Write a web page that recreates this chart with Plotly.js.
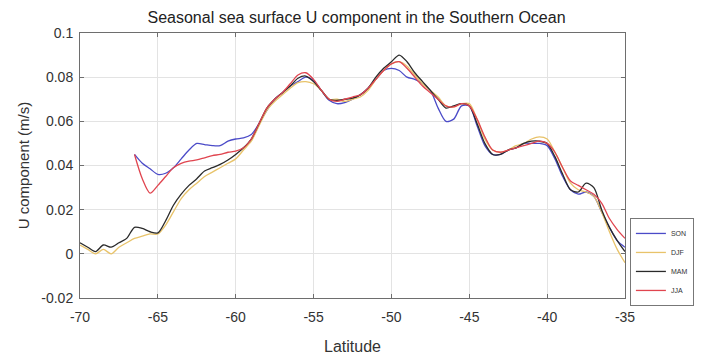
<!DOCTYPE html>
<html>
<head>
<meta charset="utf-8">
<script src="https://cdn.plot.ly/plotly-3.0.1.min.js"></script>
<style>html,body{margin:0;padding:0;background:#fff;}#chart{width:706px;height:362px;}</style>
</head>
<body>
<div id="chart"></div>
<script>
const lat = [-70,-69.5,-69,-68.5,-68,-67.5,-67,-66.5,-66,-65.5,-65,-64.5,-64,-63.5,-63,-62.5,-62,-61.5,-61,-60.5,-60,-59.5,-59,-58.5,-58,-57.5,-57,-56.5,-56,-55.5,-55,-54.5,-54,-53.5,-53,-52.5,-52,-51.5,-51,-50.5,-50,-49.5,-49,-48.5,-48,-47.5,-47,-46.5,-46,-45.5,-45,-44.5,-44,-43.5,-43,-42.5,-42,-41.5,-41,-40.5,-40,-39.5,-39,-38.5,-38,-37.5,-37,-36.5,-36,-35.5,-35];

const son = [null,null,null,null,null,null,null,0.045,0.041,0.0385,0.036,0.0365,0.039,0.043,0.047,0.050,0.0495,0.049,0.049,0.051,0.052,0.0525,0.054,0.059,0.065,0.070,0.073,0.076,0.078,0.080,0.0785,0.074,0.0695,0.068,0.0685,0.070,0.072,0.075,0.079,0.083,0.084,0.083,0.080,0.079,0.077,0.074,0.066,0.060,0.061,0.067,0.067,0.058,0.049,0.045,0.045,0.047,0.048,0.050,0.050,0.050,0.049,0.043,0.035,0.029,0.027,0.028,0.026,0.019,0.012,0.006,0.003];

const djf = [0.004,0.002,0.000,0.002,0.000,0.003,0.005,0.007,0.008,0.009,0.009,0.013,0.019,0.025,0.029,0.032,0.035,0.037,0.039,0.041,0.043,0.047,0.051,0.058,0.065,0.069,0.072,0.075,0.0775,0.078,0.077,0.074,0.070,0.070,0.069,0.070,0.071,0.074,0.079,0.083,0.086,0.087,0.085,0.081,0.077,0.074,0.071,0.067,0.0665,0.068,0.068,0.061,0.052,0.047,0.046,0.047,0.049,0.050,0.052,0.053,0.052,0.046,0.039,0.032,0.029,0.028,0.026,0.019,0.010,0.002,-0.004];

const mam = [0.005,0.003,0.001,0.004,0.003,0.005,0.007,0.012,0.0115,0.010,0.0095,0.015,0.022,0.027,0.031,0.034,0.0375,0.039,0.0405,0.0425,0.045,0.048,0.052,0.059,0.066,0.070,0.073,0.076,0.0795,0.0805,0.078,0.074,0.070,0.0695,0.070,0.0705,0.072,0.075,0.080,0.084,0.087,0.090,0.087,0.082,0.078,0.074,0.070,0.066,0.067,0.068,0.067,0.059,0.050,0.045,0.045,0.047,0.048,0.050,0.051,0.051,0.050,0.044,0.036,0.029,0.028,0.032,0.030,0.020,0.012,0.006,0.001];

const jja = [null,null,null,null,null,null,null,0.045,0.034,0.0275,0.031,0.035,0.039,0.041,0.042,0.0425,0.0435,0.0445,0.045,0.046,0.0465,0.048,0.052,0.059,0.066,0.070,0.073,0.077,0.081,0.082,0.079,0.074,0.070,0.069,0.070,0.071,0.072,0.075,0.079,0.083,0.086,0.087,0.084,0.080,0.076,0.073,0.070,0.067,0.0665,0.068,0.067,0.061,0.053,0.047,0.046,0.047,0.048,0.049,0.050,0.051,0.050,0.046,0.039,0.033,0.031,0.029,0.027,0.023,0.016,0.011,0.007];

const seriesNames = ['SON','DJF','MAM','JJA'];
const seriesColors = ['#4b4bc8','#e8c36a','#2a2a2a','#e0454f'];
const seriesData = [son, djf, mam, jja];

const xTickVals = [-70,-65,-60,-55,-50,-45,-40,-35];
const xTickText = ['-70','-65','-60','-55','-50','-45','-40','-35'];
const yTickVals = [-0.02,0,0.02,0.04,0.06,0.08,0.1];
const yTickText = ['-0.02','0','0.02','0.04','0.06','0.08','0.1'];

const traces = seriesData.map((d,i) => ({
  x: lat, y: d, name: seriesNames[i], type: 'scatter', mode: 'lines',
  line: {color: seriesColors[i], width: 1.3, shape: 'spline', smoothing: 0.8},
  connectgaps: false
}));

const FONT = 'Liberation Sans, Arial, sans-serif';
const axisCommon = {
  showline: true, linecolor: '#6e6e6e', linewidth: 1, mirror: 'ticks',
  ticks: 'inside', ticklen: 4, tickcolor: '#6e6e6e',
  showgrid: true, gridcolor: '#e3e3e3', gridwidth: 1, zeroline: false,
  tickfont: {family: FONT, size: 14, color: '#333'}
};

const layout = {
  width: 706, height: 362,
  margin: {l: 80, r: 77, t: 33, b: 64},
  paper_bgcolor: '#fff', plot_bgcolor: '#fff',
  title: {text: 'Seasonal sea surface U component in the Southern Ocean',
          font: {family: FONT, size: 16, color: '#222'},
          x: 0.505, xanchor: 'center', y: 1 - 17/362, yanchor: 'middle'},
  xaxis: Object.assign({}, axisCommon, {
    range: [-70, -35], tickvals: xTickVals, ticktext: xTickText, ticklabelstandoff: 6,
    title: {text: 'Latitude', font: {family: FONT, size: 16, color: '#333'}, standoff: 17}
  }),
  yaxis: Object.assign({}, axisCommon, {
    range: [-0.02, 0.1], tickvals: yTickVals, ticktext: yTickText, ticklabelstandoff: 3,
    title: {text: 'U component (m/s)', font: {family: FONT, size: 15, color: '#333'}, standoff: 8}
  }),
  showlegend: true,
  legend: {x: 1.009, xanchor: 'left', y: -0.03, yanchor: 'bottom',
           bgcolor: '#fff', bordercolor: '#777', borderwidth: 1,
           font: {family: FONT, size: 7, color: '#333'},
           itemwidth: 30, tracegroupgap: 0}
};

Plotly.newPlot('chart', traces, layout, {displayModeBar: false, staticPlot: true});
</script>
</body>
</html>
